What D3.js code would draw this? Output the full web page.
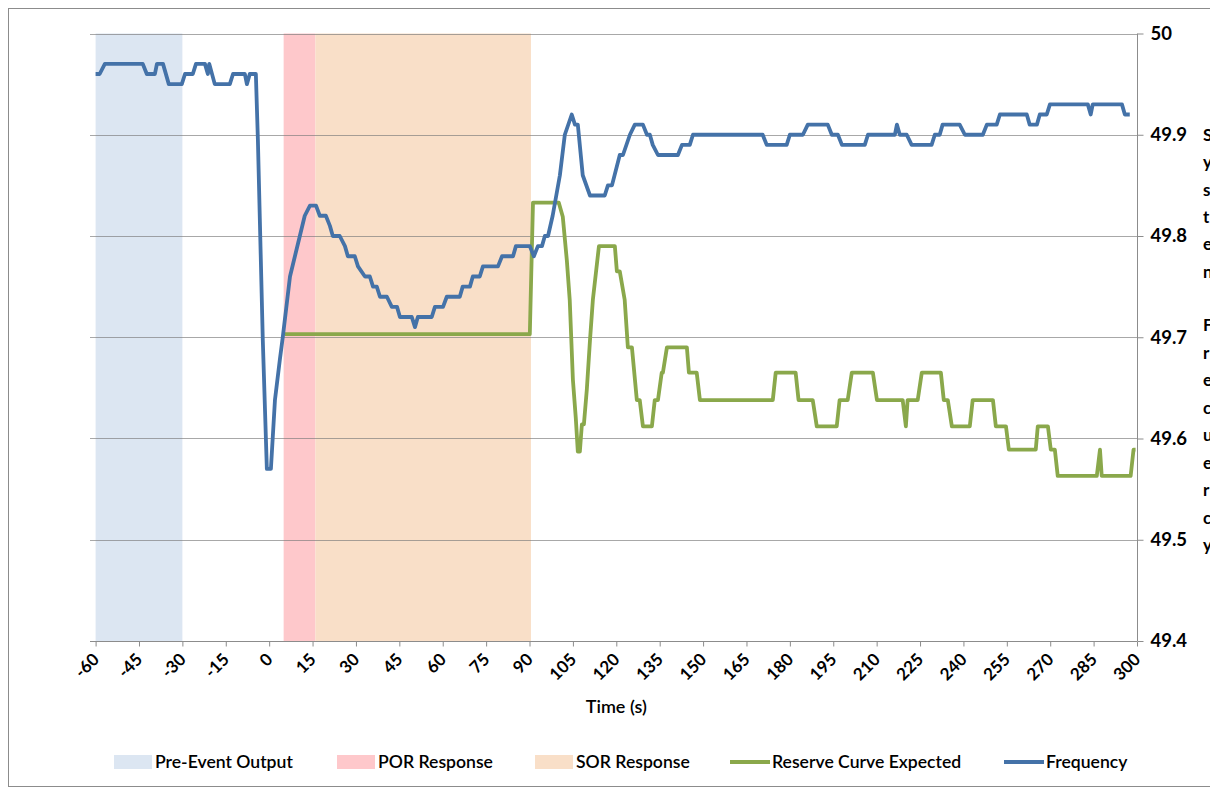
<!DOCTYPE html>
<html>
<head>
<meta charset="utf-8">
<script src="https://cdn.jsdelivr.net/npm/d3@7"></script>
<style>
  html, body { margin: 0; padding: 0; background: #fff; overflow: hidden; }
  svg { display: block; font-family: Lato, "Open Sans", sans-serif; }
</style>
</head>
<body>
<svg id="chart" width="1210" height="793"></svg>
<script>
// ---------------- DATA ----------------
const xTicks = [-60,-45,-30,-15,0,15,30,45,60,75,90,105,120,135,150,165,180,195,210,225,240,255,270,285,300];
const yTicks = [49.4,49.5,49.6,49.7,49.8,49.9,50];
const yTickLabels = ["49.4","49.5","49.6","49.7","49.8","49.9","50"];

const bandNames  = ["Pre-Event Output","POR Response","SOR Response"];
const bandStart  = [-60, 5, 16];
const bandEnd    = [-30, 16, 90.5];

const seriesNames = ["Reserve Curve Expected","Frequency"];

const freqT = [-60,-58.6,-56.8,-43.7,-42.3,-39.5,-38.8,-36.7,-34.7,-30.2,-29.1,-26.4,-25.3,-22.2,-21.2,-20.7,-18.8,-13.6,-12.5,-8.4,-7.7,-6.7,-4.6,
  -3.9,-2.2,-0.8,0.6,2.0,3.7,4.7,7.2,8.9,10.6,12.3,14.1,16.2,17.5,19.6,21.0,22.0,24.4,26.2,27.2,29.6,30.7,33.1,34.8,35.9,37.2,38.3,40.7,42.4,44.2,
  45.2,49.3,50.4,51.4,56.2,57.3,60.1,61.4,65.9,66.9,69.4,70.4,72.8,73.9,79.1,80.5,84.3,85.3,90.1,91.5,92.9,94.3,95.3,96.4,98.0,100.5,102.2,104.6,
  105.7,106.7,108.4,110.9,116.0,117.1,118.5,121.2,122.3,124.7,126.4,129.2,130.6,131.6,132.6,134.4,141.3,142.7,145.4,146.5,170.6,172.0,178.9,180.0,
  184.5,186.2,193.1,194.5,196.6,198.0,205.9,207.0,216.3,217.0,218.0,220.4,222.1,229.0,230.1,231.8,232.8,238.7,240.5,246.7,248.1,251.5,252.6,261.9,
  262.9,265.4,266.4,268.8,269.9,283.0,284.0,284.7,294.8,295.8,297.5];
const freqV = [49.96,49.96,49.97,49.97,49.96,49.96,49.97,49.97,49.95,49.95,49.96,49.96,49.97,49.97,49.96,49.97,49.95,49.95,49.96,49.96,49.95,49.96,49.96,
  49.895,49.697,49.57,49.57,49.638,49.678,49.70,49.76,49.78,49.80,49.82,49.83,49.83,49.82,49.82,49.81,49.80,49.80,49.79,49.78,49.78,49.77,49.76,49.76,49.75,49.75,49.74,49.74,49.73,49.73,
  49.72,49.72,49.71,49.72,49.72,49.73,49.73,49.74,49.74,49.75,49.75,49.76,49.76,49.77,49.77,49.78,49.78,49.79,49.79,49.78,49.79,49.79,49.80,49.80,49.82,49.86,49.90,49.92,
  49.91,49.91,49.86,49.84,49.84,49.85,49.85,49.88,49.88,49.90,49.91,49.91,49.90,49.90,49.89,49.88,49.88,49.89,49.89,49.90,49.90,49.89,49.89,49.90,
  49.90,49.91,49.91,49.90,49.90,49.89,49.89,49.90,49.90,49.91,49.90,49.90,49.89,49.89,49.90,49.90,49.91,49.91,49.90,49.90,49.91,49.91,49.92,49.92,
  49.91,49.91,49.92,49.92,49.93,49.93,49.92,49.93,49.93,49.92,49.92];

const reserveT = [5.4,90.1,91.2,100.1,101.5,102.9,103.9,105.0,106.0,106.7,107.4,108.1,108.8,109.8,110.9,111.9,114.0,119.5,120.2,121.2,122.9,124.0,125.4,
  127.1,128.1,129.2,132.3,133.3,134.4,135.7,136.1,137.5,144.4,145.1,147.8,148.9,174.1,175.1,182.0,183.0,187.9,189.3,196.2,197.2,200.0,201.4,208.7,
  210.1,219.0,220.1,220.7,224.2,225.6,232.2,233.2,234.6,236.0,242.2,243.2,250.2,251.2,254.7,255.7,265.0,265.7,269.2,270.2,271.6,272.6,286.1,287.2,
  287.8,297.8,298.8,299.5];
const reserveV = [49.703,49.703,49.833,49.833,49.819,49.776,49.737,49.658,49.62,49.587,49.587,49.614,49.614,49.648,49.697,49.737,49.79,49.79,49.765,49.765,49.737,49.69,49.69,
  49.638,49.638,49.612,49.612,49.638,49.638,49.665,49.665,49.69,49.69,49.665,49.665,49.638,49.638,49.665,49.665,49.638,49.638,49.612,49.612,49.638,49.638,49.665,49.665,
  49.638,49.638,49.612,49.638,49.638,49.665,49.665,49.638,49.638,49.612,49.612,49.638,49.638,49.612,49.612,49.589,49.589,49.612,49.612,49.589,49.589,49.563,49.563,49.589,
  49.563,49.563,49.589,49.589];

const xTitle = "Time (s)";
const sideLetters1 = ["S","y","s","t","e","n"];
const sideLetters2 = ["F","r","e","c","u","e","r","c","y"];

// ---------------- STYLE ----------------
const bandColors = ["#dce6f2","#fec8cb","#f9dfc8"];
const lineColors = ["#8aa84b","#4472a8"];

// ---------------- DRAW ----------------
const svg = d3.select("#chart");
const x = d3.scaleLinear().domain([-60,300]).range([95.6,1137]);
const y = d3.scaleLinear().domain([49.4,50]).range([641,33.5]);
const plotLeft = x(-60) - 5.6, plotRight = x(300);

// outer frame
svg.append("rect").attr("x",8.5).attr("y",8.5).attr("width",1300).attr("height",778)
  .attr("fill","none").attr("stroke","#8c8c8c").attr("stroke-width",1);

// bands
svg.append("g").selectAll("rect").data(bandNames).join("rect")
  .attr("x",(d,i)=>x(bandStart[i]))
  .attr("width",(d,i)=>x(bandEnd[i])-x(bandStart[i]))
  .attr("y",y(50)).attr("height",y(49.4)-y(50))
  .attr("fill",(d,i)=>bandColors[i]);

// gridlines
svg.append("g").selectAll("line").data(yTicks).join("line")
  .attr("x1",plotLeft).attr("x2",plotRight)
  .attr("y1",d=>Math.round(y(d))+0.5).attr("y2",d=>Math.round(y(d))+0.5)
  .attr("stroke","#7a7a7a").attr("stroke-opacity",0.65).attr("stroke-width",1);

// x axis
const xAxis = d3.axisBottom(x).tickValues(xTicks).tickSize(5).tickFormat(d=>String(d));
const gx = svg.append("g").attr("transform",`translate(0,${Math.round(y(49.4))+0.5})`).call(xAxis);
gx.select(".domain").remove();
gx.append("line").attr("x1",plotLeft).attr("x2",plotRight).attr("stroke","#8c8c8c");
gx.selectAll(".tick line").attr("stroke","#8c8c8c");
gx.selectAll(".tick text")
  .attr("font-family","Lato, sans-serif").attr("font-size",17).attr("font-weight",700).attr("fill","#000")
  .attr("text-anchor","end").attr("dy",null).attr("y",0)
  .attr("transform","translate(4,19) rotate(-45)");

// right y axis
const yAxis = d3.axisRight(y).tickValues(yTicks).tickSize(6).tickPadding(7)
  .tickFormat((d,i)=>yTickLabels[i]);
const gy = svg.append("g").attr("transform",`translate(${Math.round(plotRight)+0.5},0)`).call(yAxis);
gy.select(".domain").attr("stroke","#8c8c8c").attr("d",`M0,${y(50)}V${y(49.4)}`);
gy.selectAll(".tick line").attr("stroke","#8c8c8c");
gy.selectAll(".tick text").attr("font-family","Lato, sans-serif").attr("font-size",18.5)
  .attr("font-weight",700).attr("fill","#000");

// x title
svg.append("text").attr("x",(x(-60)+x(300))/2).attr("y",713).attr("text-anchor","middle")
  .attr("font-size",18).attr("font-weight",600).attr("fill","#000").text(xTitle);

// lines
const line = d3.line().x(d=>x(d[0])).y(d=>y(d[1]));
svg.append("path").datum(reserveT.map((t,i)=>[t,reserveV[i]])).attr("d",line)
  .attr("fill","none").attr("stroke",lineColors[0]).attr("stroke-width",3.8).attr("stroke-linejoin","round");
svg.append("path").datum(freqT.map((t,i)=>[t,freqV[i]])).attr("d",line)
  .attr("fill","none").attr("stroke",lineColors[1]).attr("stroke-width",3.8).attr("stroke-linejoin","round");

// legend
const legX = [114, 337, 535, 730, 1004];
const legNames = bandNames.concat(seriesNames);
const leg = svg.append("g");
legNames.forEach((n,i)=>{
  if (i<3) {
    leg.append("rect").attr("x",legX[i]).attr("y",755).attr("width",38).attr("height",14).attr("fill",bandColors[i]);
  } else {
    leg.append("line").attr("x1",legX[i]).attr("x2",legX[i]+40).attr("y1",762).attr("y2",762)
      .attr("stroke",lineColors[i-3]).attr("stroke-width",4);
  }
  leg.append("text").attr("x",legX[i]+(i<3?41:42)).attr("y",768).attr("font-size",17.6).attr("font-weight",600)
    .attr("fill","#000").text(n);
});

// clipped side text (overflowing from a neighbouring text box)
const side = svg.append("g").attr("font-size",17).attr("font-weight",700).attr("fill","#000");
sideLetters1.forEach((c,i)=>side.append("text").attr("x",1203).attr("y",141+i*27.3).text(c));
sideLetters2.forEach((c,i)=>side.append("text").attr("x",1203).attr("y",331+i*27.5).text(c));
</script>
</body>
</html>
